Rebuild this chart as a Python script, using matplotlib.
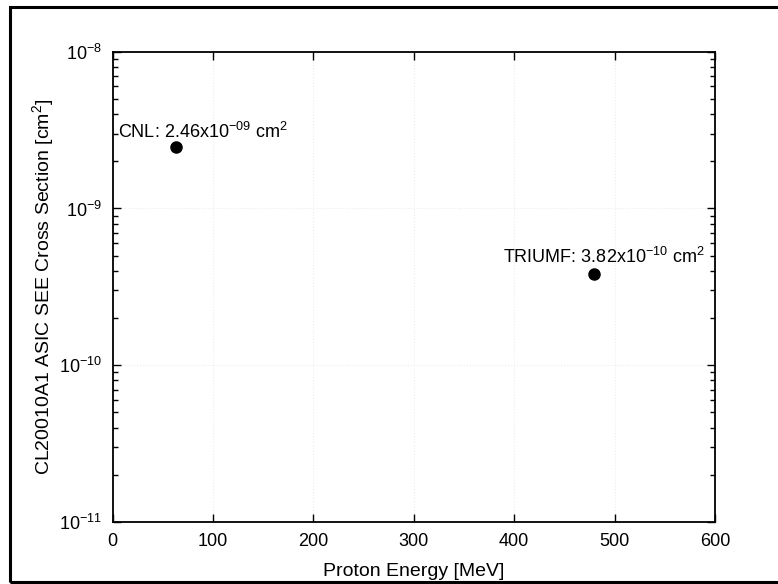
import matplotlib
matplotlib.use("Agg")
import matplotlib.pyplot as plt
from matplotlib.patches import Rectangle
from matplotlib.ticker import LogLocator, FixedLocator, NullFormatter

plt.rcParams['font.family'] = ['Liberation Sans', 'DejaVu Sans']

facilities = ["CNL", "TRIUMF"]
energy_mev = [63, 480]
cross_section = [2.46e-9, 3.82e-10]
label_text = [r"CNL: 2.46x10$^{\mathregular{-09}}$ cm$^{\mathregular{2}}$",
              r"TRIUMF: 3.82x10$^{\mathregular{-10}}$ cm$^{\mathregular{2}}$"]
label_offsets_pt = [(-42, 11), (-66, 12)]
x_ticks = [0, 100, 200, 300, 400, 500, 600]
y_ticks = [1e-11, 1e-10, 1e-9, 1e-8]
y_tick_labels = [r"10$^{\mathregular{-11}}$", r"10$^{\mathregular{-10}}$",
                 r"10$^{\mathregular{-9}}$", r"10$^{\mathregular{-8}}$"]

fig = plt.figure(figsize=(7.78, 5.84), dpi=100)
ax = fig.add_axes([0.1449, 0.106, 0.774, 0.8055])

ax.plot(energy_mev, cross_section, 'o', color='black', markersize=8, linestyle='none')
for x, y, t, off in zip(energy_mev, cross_section, label_text, label_offsets_pt):
    ax.annotate(t, xy=(x, y), xytext=off, textcoords='offset points',
                ha='left', va='center', fontsize=13, color='black')

ax.set_yscale('log')
ax.set_xlim(0, 600)
ax.set_ylim(1e-11, 1e-8)
ax.set_xticks(x_ticks)
ax.set_xticklabels([str(t) for t in x_ticks])
ax.yaxis.set_major_locator(FixedLocator(y_ticks))
ax.set_yticklabels(y_tick_labels)
ax.yaxis.set_minor_locator(LogLocator(base=10, subs=range(2, 10), numticks=20))
ax.yaxis.set_minor_formatter(NullFormatter())

ax.tick_params(which='both', direction='in', top=True, right=True, labelsize=13,
               width=1.0, color='black')
ax.tick_params(which='major', length=6, pad=8)
ax.tick_params(which='minor', length=3.5)
for s in ax.spines.values():
    s.set_linewidth(1.3)

ax.grid(True, which='major', linestyle=':', color='#ececec', linewidth=0.8)

ax.set_xlabel("Proton Energy [MeV]", fontsize=14, labelpad=9)
ax.set_ylabel(r"CL20010A1 ASIC SEE Cross Section [cm$^{\mathregular{2}}$]", fontsize=14, labelpad=1)

fig.patches.append(Rectangle((10/778, (584-582)/584), 1.2, (582-7)/584,
                             transform=fig.transFigure, fill=False,
                             edgecolor='black', linewidth=2.2))

fig.savefig("out.png", dpi=100)
